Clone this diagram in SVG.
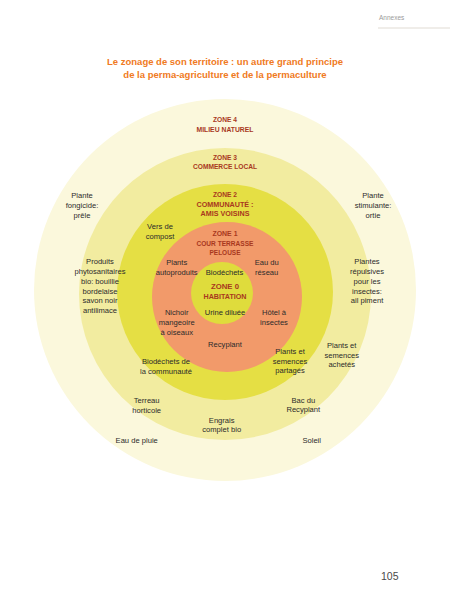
<svg xmlns="http://www.w3.org/2000/svg" width="450" height="600" viewBox="0 0 450 600">
<style>
.title{font-family:"Liberation Sans",Arial,sans-serif;font-weight:bold;font-size:9.5px;fill:#f07a22;text-anchor:middle}
.zl{font-family:"Liberation Sans",Arial,sans-serif;font-weight:bold;font-size:7.3px;fill:#a8381e;text-anchor:middle}
.t{font-family:"Liberation Sans",Arial,sans-serif;font-size:7.6px;fill:#2b2b2b;text-anchor:middle}
.hdr{font-family:"Liberation Sans",Arial,sans-serif;font-size:6.5px;fill:#9a9a9a}
.pg{font-family:"Liberation Sans",Arial,sans-serif;font-size:10.5px;fill:#4a4a4a}
</style>
<rect width="450" height="600" fill="#ffffff"/>
<g id="header">
<text class="hdr" x="379" y="20">Annexes</text>
<line x1="378" y1="28" x2="450" y2="28" stroke="#d8d2c8" stroke-width="0.8"/>
</g>
<g id="title">
<text class="title" x="225" y="64.5">Le zonage de son territoire : un autre grand principe</text>
<text class="title" x="225" y="78">de la perma-agriculture et de la permaculture</text>
</g>
<g id="zone4">
<circle cx="225" cy="290" r="191" fill="#fbf8dc"/>
<text class="zl" x="225" y="121.8" textLength="24" lengthAdjust="spacingAndGlyphs">ZONE 4</text>
<text class="zl" x="225" y="131.8" textLength="57" lengthAdjust="spacingAndGlyphs">MILIEU NATUREL</text>
</g>
<g id="zone3">
<circle cx="225" cy="294" r="146" fill="#f2eca0"/>
<text class="zl" x="225" y="159.8" textLength="24" lengthAdjust="spacingAndGlyphs">ZONE 3</text>
<text class="zl" x="225" y="168.8" textLength="64" lengthAdjust="spacingAndGlyphs">COMMERCE LOCAL</text>
</g>
<g id="zone2">
<circle cx="225" cy="292" r="108" fill="#e5df44"/>
<text class="zl" x="225" y="196.8" textLength="24" lengthAdjust="spacingAndGlyphs">ZONE 2</text>
<text class="zl" x="225" y="206.8" textLength="57" lengthAdjust="spacingAndGlyphs">COMMUNAUTÉ :</text>
<text class="zl" x="225" y="215.8" textLength="49" lengthAdjust="spacingAndGlyphs">AMIS VOISINS</text>
</g>
<g id="zone1">
<circle cx="227" cy="297" r="75" fill="#f29a6a"/>
<text class="zl" x="225" y="236.3" textLength="25" lengthAdjust="spacingAndGlyphs">ZONE 1</text>
<text class="zl" x="225" y="245.5" textLength="57" lengthAdjust="spacingAndGlyphs">COUR TERRASSE</text>
<text class="zl" x="225" y="255.1" textLength="31" lengthAdjust="spacingAndGlyphs">PELOUSE</text>
</g>
<g id="zone0">
<circle cx="222" cy="293" r="31" fill="#dfdc3c"/>
<text class="zl" x="225" y="289" textLength="28" lengthAdjust="spacingAndGlyphs" fill="#b8401c">ZONE 0</text>
<text class="zl" x="225" y="299" textLength="43" lengthAdjust="spacingAndGlyphs" fill="#b8401c">HABITATION</text>
</g>
<g id="items">
<text class="t" x="82" y="198.3">Plante</text>
<text class="t" x="82" y="208">fongicide:</text>
<text class="t" x="82" y="217.6">prêle</text>
<text class="t" x="373" y="198.3">Plante</text>
<text class="t" x="373" y="208">stimulante:</text>
<text class="t" x="373" y="217.6">ortie</text>
<text class="t" x="100" y="264.3">Produits</text>
<text class="t" x="100" y="274.3">phytosanitaires</text>
<text class="t" x="100" y="284.3">bio: bouillie</text>
<text class="t" x="100" y="293.6">bordelaise</text>
<text class="t" x="100" y="303.3">savon noir</text>
<text class="t" x="100" y="313.3">antilimace</text>
<text class="t" x="367" y="264.3">Plantes</text>
<text class="t" x="367" y="274.3">répulsives</text>
<text class="t" x="367" y="284.3">pour les</text>
<text class="t" x="367" y="293.6">insectes:</text>
<text class="t" x="367" y="303.3">ail piment</text>
<text class="t" x="160" y="229.3">Vers de</text>
<text class="t" x="160" y="239.3">compost</text>
<text class="t" x="176.7" y="264.9">Plants</text>
<text class="t" x="176.7" y="274.9">autoproduits</text>
<text class="t" x="224.5" y="274.9">Biodéchets</text>
<text class="t" x="266.7" y="264.9">Eau du</text>
<text class="t" x="266.7" y="274.9">réseau</text>
<text class="t" x="225" y="315.3">Urine diluée</text>
<text class="t" x="176.7" y="314.9">Nichoir</text>
<text class="t" x="176.7" y="324.9">mangeoire</text>
<text class="t" x="176.7" y="334.9">à oiseaux</text>
<text class="t" x="274" y="315.3">Hôtel à</text>
<text class="t" x="274" y="324.9">insectes</text>
<text class="t" x="225" y="346.6">Recyplant</text>
<text class="t" x="290" y="354.3">Plants et</text>
<text class="t" x="290" y="364.3">semences</text>
<text class="t" x="290" y="373.3">partagés</text>
<text class="t" x="341.7" y="347.6">Plants et</text>
<text class="t" x="341.7" y="357.6">semences</text>
<text class="t" x="341.7" y="366.9">achetés</text>
<text class="t" x="166" y="364.3">Biodéchets de</text>
<text class="t" x="166" y="374.3">la communauté</text>
<text class="t" x="146.7" y="402.6">Terreau</text>
<text class="t" x="146.7" y="412.6">horticole</text>
<text class="t" x="303.3" y="402.6">Bac du</text>
<text class="t" x="303.3" y="411.9">Recyplant</text>
<text class="t" x="221.7" y="422.6">Engrais</text>
<text class="t" x="221.7" y="431.9">complet bio</text>
<text class="t" x="136.7" y="442.6">Eau de pluie</text>
<text class="t" x="311.7" y="442.6">Soleil</text>
</g>
<g id="page-number">
<text class="pg" x="381" y="580">105</text>
</g>
</svg>
